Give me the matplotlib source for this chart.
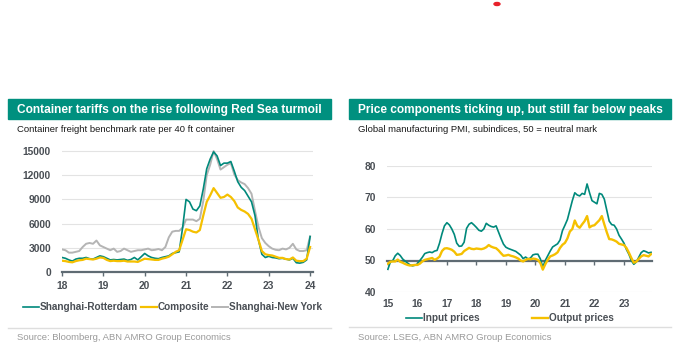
import matplotlib
matplotlib.use("Agg")
import matplotlib.pyplot as plt
from matplotlib.patches import Rectangle, Circle
from matplotlib.lines import Line2D
import numpy as np

plt.rcParams['font.family'] = ['Liberation Sans', 'DejaVu Sans']

# ---- left chart: container freight rates, monthly Jan-2018 .. Jan-2024 (USD per 40ft)
freight_start = 2018
rotterdam = [1800, 1700, 1500, 1350, 1600, 1700, 1700, 1800, 1650, 1600, 1800, 2000,
             1900, 1700, 1500, 1550, 1500, 1550, 1600, 1450, 1550, 1800, 1500, 1900,
             2300, 2000, 1800, 1700, 1650, 1800, 1900, 2000, 2300, 2400, 2500, 5500,
             9000, 8700, 7800, 7600, 8200, 10300, 12800, 14000, 14900, 14400, 13200, 13500,
             13500, 13700, 12500, 11200, 10500, 10100, 9400, 8700, 7000, 4000, 2200, 1800,
             1950, 1800, 1750, 1650, 1700, 1600, 1500, 1700, 1150, 1100, 1200, 1500,
             4400]
composite = [1400, 1350, 1250, 1200, 1350, 1450, 1500, 1650, 1600, 1550, 1650, 1800,
             1750, 1500, 1350, 1400, 1350, 1350, 1400, 1300, 1300, 1300, 1250, 1450,
             1650, 1600, 1550, 1500, 1500, 1650, 1750, 1900, 2200, 2500, 2700, 4000,
             5300, 5200, 5000, 4900, 5200, 7000, 8700, 9500, 10400, 9800, 9200, 9300,
             9600, 9300, 8800, 8000, 7700, 7500, 7200, 6600, 5300, 4000, 2600, 2200,
             2100, 2050, 1900, 1750, 1750, 1600, 1550, 1800, 1400, 1350, 1350, 1650,
             3100]
new_york = [2800, 2700, 2400, 2400, 2500, 2600, 3100, 3500, 3600, 3500, 3900, 3300,
            3100, 2900, 2700, 2900, 2500, 2600, 2900, 2700, 2500, 2600, 2700, 2700,
            2800, 2900, 2700, 2750, 2850, 2700, 3100, 4300, 5000, 5100, 5100, 5500,
            6500, 6500, 6500, 6300, 6600, 8800, 12000, 13300, 15000, 14000, 12700, 13000,
            13300, 13500, 12100, 11400, 11100, 10900, 10400, 9700, 7600, 5600, 4200, 3600,
            3200, 2900, 2750, 2700, 2900, 2800, 3000, 3500, 2800, 2600, 2600, 2700,
            4400]
left_ticks = [18, 19, 20, 21, 22, 23, 24]
left_yticks = [0, 3000, 6000, 9000, 12000, 15000]

# ---- right chart: global manufacturing PMI price subindices, monthly Jan-2015 .. Dec-2023
pmi_start = 2015
input_prices = [47.2, 49.5, 50.0, 51.5, 52.3, 51.6, 50.5, 49.8, 49.2, 48.6, 48.3, 48.5,
                48.9, 50.0, 51.0, 52.2, 52.5, 52.7, 52.5, 53.0, 53.2, 55.5, 58.5, 61.0,
                62.0, 61.3, 60.0, 58.3, 55.5, 54.5, 54.6, 55.8, 60.2, 61.5, 62.0, 61.3,
                60.5, 59.6, 59.3, 60.0, 61.8, 61.2, 60.8, 60.6, 61.0, 59.0, 57.0, 55.2,
                54.2, 53.8, 53.5, 53.2, 52.9, 52.3, 51.7, 50.6, 51.1, 50.5, 50.8, 51.8,
                52.0, 52.0, 50.5, 47.9, 50.0, 51.5, 53.0, 54.3, 54.8, 55.3, 56.5, 59.5,
                61.2, 63.0, 66.0, 69.0, 71.5, 70.8, 70.5, 71.3, 71.0, 74.3, 71.5, 69.0,
                68.5, 68.0, 71.3, 71.0, 69.5, 66.0, 62.5, 61.4, 61.2, 60.0, 58.0, 56.8,
                55.5, 53.5, 52.0, 50.0, 48.8, 49.5, 51.0, 52.5, 53.1, 52.8, 52.4, 52.6]
output_prices = [49.0, 49.6, 49.7, 49.7, 50.3, 49.6, 49.3, 48.9, 48.6, 48.4, 48.5, 48.6,
                 48.6, 49.0, 49.7, 50.2, 50.4, 50.6, 50.8, 50.2, 50.6, 51.2, 53.0, 53.8,
                 53.9, 53.7, 53.4, 52.8, 51.8, 51.9, 52.1, 53.0, 53.5, 54.0, 53.7, 53.6,
                 53.8, 53.7, 53.6, 53.8, 54.2, 54.9, 54.4, 54.1, 53.9, 53.2, 52.3, 51.5,
                 51.6, 51.8, 51.5, 51.3, 51.0, 50.6, 50.0, 49.7, 50.2, 50.5, 50.4, 50.6,
                 50.5, 50.2, 49.2, 47.1, 48.8, 50.2, 51.3, 51.6, 52.0, 52.6, 54.0, 55.0,
                 55.6, 57.0, 59.2, 60.0, 62.7, 61.0, 60.4, 61.5, 62.5, 64.1, 60.5, 61.0,
                 61.2, 62.0, 62.8, 64.1, 61.5, 59.0, 56.8, 56.7, 56.4, 56.0, 55.3, 55.1,
                 54.9, 54.0, 52.5, 50.8, 49.3, 49.6, 50.5, 51.3, 51.7, 51.5, 51.3, 52.0]
right_ticks = [15, 16, 17, 18, 19, 20, 21, 22, 23]
right_yticks = [40, 50, 60, 70, 80]

TEAL = '#00897b'
BANNER = '#00907f'
YELLOW = '#f5c000'
GREY = '#b4b4b4'
AXIS = '#5f6b73'
TXT = '#4a4f55'
GRID = '#e3e3e3'

W, H = 690, 348
fig = plt.figure(figsize=(W / 100, H / 100), dpi=100)


def box(x0, y0, x1, y1):
    return [x0 / W, 1 - y1 / H, (x1 - x0) / W, (y1 - y0) / H]


def panel(x0, x1, title, subtitle, source, sep_y):
    fig.patches.append(Rectangle((x0 / W, 1 - 119 / H), (x1 - x0) / W, 20 / H,
                                 transform=fig.transFigure, color=BANNER, zorder=0))
    fig.text((x0 + 9) / W, 1 - 109.5 / H, title, color='white', fontsize=8.6,
             fontweight='bold', va='center')
    fig.text((x0 + 9) / W, 1 - 129 / H, subtitle, color='#1a1a1a', fontsize=6.8, va='center')
    fig.add_artist(Line2D([x0 / W, x1 / W], [1 - sep_y / H] * 2, color='#dedede', lw=1))
    fig.text((x0 + 9) / W, 1 - 338 / H, source, color='#9a9a9a', fontsize=6.8, va='center')


def style(ax):
    for s in ['top', 'right', 'left']:
        ax.spines[s].set_visible(False)
    ax.spines['bottom'].set_color(AXIS)
    ax.spines['bottom'].set_linewidth(1.6)
    ax.tick_params(axis='y', length=0, labelsize=7.4, labelcolor=TXT, pad=8)
    ax.tick_params(axis='x', length=3, width=1, color=AXIS, direction='out',
                   labelsize=7.4, labelcolor=TXT)
    ax.grid(axis='y', color=GRID, lw=0.8)
    ax.set_axisbelow(True)


def bold_ticks(ax):
    for lab in ax.get_xticklabels() + ax.get_yticklabels():
        lab.set_fontweight('bold')


# ---- left panel
panel(8, 331, 'Container tariffs on the rise following Red Sea turmoil',
      'Container freight benchmark rate per 40 ft container',
      'Source: Bloomberg, ABN AMRO Group Economics', 328)

axl = fig.add_axes(box(62, 147, 313, 272))
xl = (freight_start - 2000) + np.arange(len(rotterdam)) / 12
axl.plot(xl, rotterdam, color=TEAL, lw=1.2, label='Shanghai-Rotterdam', zorder=3)
axl.plot(xl, composite, color=YELLOW, lw=1.6, label='Composite', zorder=4)
axl.plot(xl, new_york, color=GREY, lw=1.4, label='Shanghai-New York', zorder=2)
axl.set_xlim(18, 24.07)
axl.set_ylim(0, 15500)
axl.set_xticks(left_ticks)
axl.set_yticks(left_yticks)
style(axl)
bold_ticks(axl)
axl.legend(loc='center', bbox_to_anchor=(0.44, -0.28), ncol=3, frameon=False,
           handlelength=1.6, handletextpad=0.1, columnspacing=0.3,
           prop={'weight': 'bold', 'size': 7.2}, labelcolor=TXT)

# ---- right panel
panel(349, 671, 'Price components ticking up, but still far below peaks',
      'Global manufacturing PMI, subindices, 50 = neutral mark',
      'Source: LSEG, ABN AMRO Group Economics', 327)

axr = fig.add_axes(box(387, 166, 652, 292))
xr = (pmi_start - 2000) + np.arange(len(input_prices)) / 12
axr.plot(xr, input_prices, color=TEAL, lw=1.2, label='Input prices', zorder=3)
axr.plot(xr, output_prices, color=YELLOW, lw=1.7, label='Output prices', zorder=4)
axr.set_xlim(14.97, 23.95)
axr.set_ylim(40, 80)
axr.spines['bottom'].set_position(('data', 50))
axr.spines['bottom'].set_zorder(2)
axr.set_xticks(right_ticks)
axr.set_yticks(right_yticks)
style(axr)
axr.tick_params(axis='x', pad=25)
bold_ticks(axr)
axr.legend(loc='center', bbox_to_anchor=(0.465, -0.21), ncol=2, frameon=False,
           handlelength=1.6, handletextpad=0.1, columnspacing=5.2,
           prop={'weight': 'bold', 'size': 7.2}, labelcolor=TXT)

# small red dot at the top of the page
fig.patches.append(Circle((497 / W, 1 - 4 / H), 3 / W, transform=fig.transFigure,
                          color='#e8202a'))

fig.savefig('out.png', dpi=100)
